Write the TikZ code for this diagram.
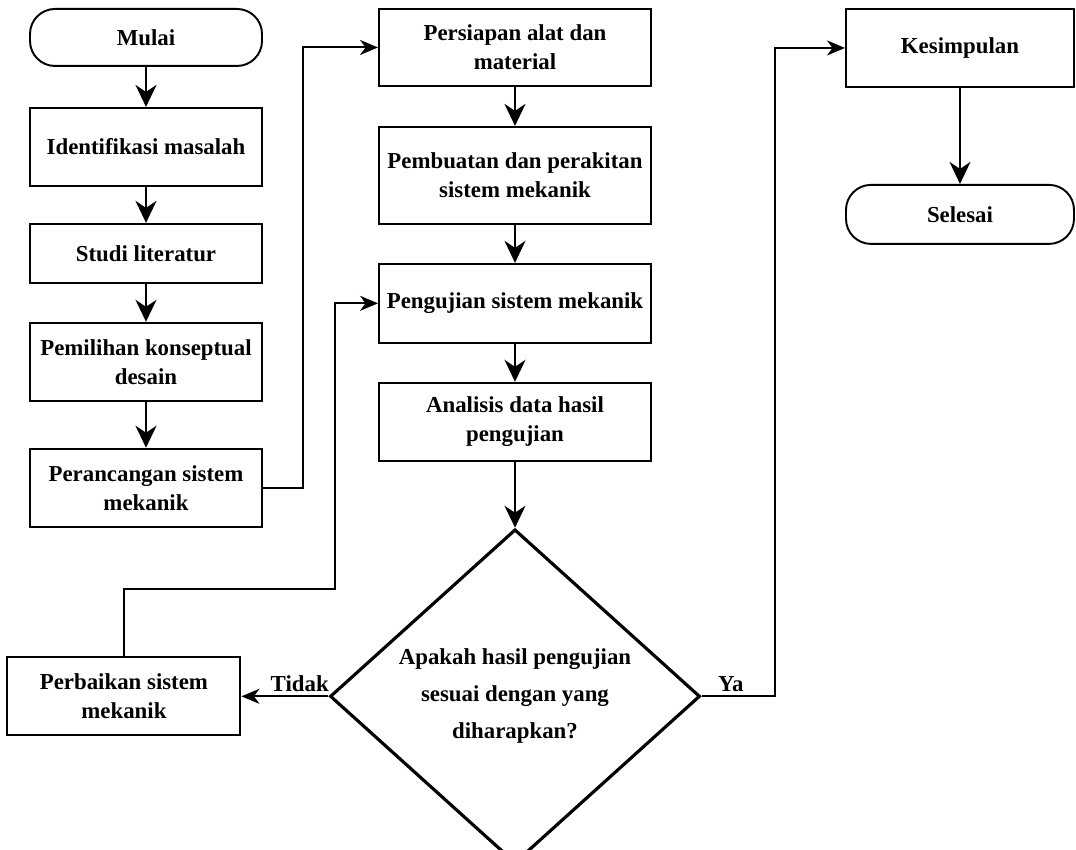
\documentclass[tikz,border=0pt]{standalone}
\usepackage{fontspec}
\setmainfont{Liberation Serif}
\usetikzlibrary{positioning, arrows.meta, shapes.geometric}

\begin{document}
\begin{tikzpicture}[
    x=0.2mm, y=-0.2mm,
    every node/.style={font=\fontsize{13}{16.5}\selectfont\bfseries},
    kotak/.style={rectangle, draw, line width=1.1pt, minimum width=46.4mm, minimum height=15.6mm,
                  align=center, inner sep=0.8mm},
    ujung/.style={kotak, rounded corners=5mm},
    putusan/.style={diamond, draw, line width=1.8pt, minimum width=74mm, minimum height=66.8mm,
                    inner sep=0pt, align=center, font=\fontsize{13}{21}\selectfont\bfseries},
    panah/.style={line width=1.1pt, -{Stealth[length=4.4mm, width=4.2mm, inset=1.4mm]}},
    panahkecil/.style={line width=1.1pt, -{Stealth[length=3.6mm, width=3mm, inset=1.1mm]}},
  ]
  \useasboundingbox (0,0) rectangle (1076,850);

  \node[ujung, minimum height=11.4mm, anchor=north] (mulai) at (146,8) {Mulai};
  \node[kotak, below=8mm of mulai] (identifikasi) {Identifikasi masalah};
  \node[kotak, minimum height=11.8mm, below=7.2mm of identifikasi] (studi) {Studi literatur};
  \node[kotak, below=7.6mm of studi] (pemilihan) {Pemilihan konseptual\\desain};
  \node[kotak, below=9.2mm of pemilihan] (perancangan) {Perancangan sistem\\mekanik};

  \node[kotak, minimum width=54.4mm, minimum height=15.4mm, anchor=north] (persiapan) at (515,8)
       {Persiapan alat dan\\material};
  \node[kotak, minimum width=54.4mm, minimum height=19.4mm, below=7.8mm of persiapan] (pembuatan)
       {Pembuatan dan perakitan\\sistem mekanik};
  \node[kotak, minimum width=54.4mm, minimum height=15.8mm, below=7.6mm of pembuatan] (pengujian)
       {Pengujian sistem mekanik};
  \node[kotak, minimum width=54.4mm, below=7.6mm of pengujian] (analisis) {Analisis data hasil\\pengujian};
  \node[putusan, below=13.2mm of analisis] (cek) {Apakah hasil pengujian\\sesuai dengan yang\\diharapkan?};

  \node[kotak, minimum width=46.6mm, left=17.4mm of cek] (perbaikan) {Perbaikan sistem\\mekanik};

  \node[kotak, minimum width=45.6mm, anchor=north] (kesimpulan) at (960,8) {Kesimpulan};
  \node[ujung, minimum width=45.6mm, minimum height=11.8mm, below=19.2mm of kesimpulan] (selesai) {Selesai};

  \coordinate (belok) at (335,589);

  \draw[panah] (mulai) -- (identifikasi);
  \draw[panah] (identifikasi) -- (studi);
  \draw[panah] (studi) -- (pemilihan);
  \draw[panah] (pemilihan) -- (perancangan);
  \draw[panah] (persiapan) -- (pembuatan);
  \draw[panah] (pembuatan) -- (pengujian);
  \draw[panah] (pengujian) -- (analisis);
  \draw[panah] (analisis) -- (cek);
  \draw[panah] (kesimpulan) -- (selesai);

  \draw[panahkecil] (perancangan.east) -- ++(40,0) |- (persiapan.west);
  \draw[panahkecil] (perbaikan.north) |- (belok) |- (pengujian.west);
  \draw[panahkecil] (cek.west) -- node[above, pos=0.33, inner sep=2pt] {Tidak} (perbaikan.east);
  \draw[panahkecil] (cek.east) -- node[above, pos=0.4, inner sep=2pt] {Ya} ++(73,0) |- (kesimpulan.west);
\end{tikzpicture}
\end{document}
